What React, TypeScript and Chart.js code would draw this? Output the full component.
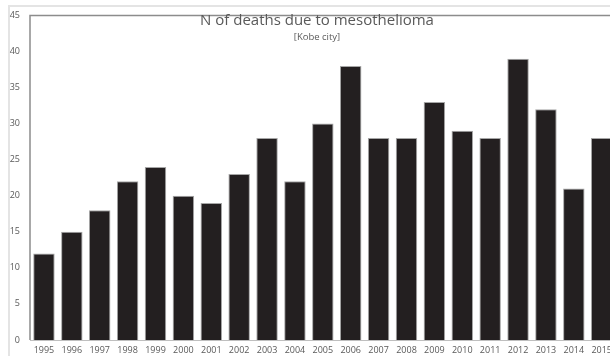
import React, { useEffect, useRef } from "react";
import { Chart, registerables } from "chart.js";

Chart.register(...registerables);

const years = ["1995","1996","1997","1998","1999","2000","2001","2002","2003","2004","2005","2006","2007","2008","2009","2010","2011","2012","2013","2014","2015"];
const deaths = [12, 15, 18, 22, 24, 20, 19, 23, 28, 22, 30, 38, 28, 28, 33, 29, 28, 39, 32, 21, 28];
const titleText = "N of deaths due to mesothelioma";
const subtitleText = "[Kobe city]";

const framePlugin = {
  id: "frameAndTitle",
  beforeDraw(chart: any) {
    const ctx = chart.ctx;
    ctx.save();
    ctx.strokeStyle = "#e4e4e4";
    ctx.lineWidth = 2;
    ctx.strokeRect(9, 6, chart.width + 20, chart.height + 20);
    ctx.restore();
  },
  afterDraw(chart: any) {
    const ctx = chart.ctx;
    const a = chart.chartArea;
    ctx.save();
    ctx.strokeStyle = "#8c8c8c";
    ctx.lineWidth = 1.5;
    ctx.beginPath();
    ctx.moveTo(a.left, a.bottom);
    ctx.lineTo(a.left, a.top);
    ctx.lineTo(a.right, a.top);
    ctx.stroke();
    ctx.strokeStyle = "#bfbfbf";
    ctx.lineWidth = 1;
    ctx.beginPath();
    ctx.moveTo(a.left, a.bottom + 0.5);
    ctx.lineTo(a.right, a.bottom + 0.5);
    ctx.stroke();
    ctx.fillStyle = "#595959";
    ctx.textAlign = "center";
    ctx.textBaseline = "middle";
    ctx.font = "15px 'Open Sans'";
    ctx.fillText(titleText, 317, 21);
    ctx.font = "9.5px 'Open Sans'";
    ctx.fillText(subtitleText, 317, 37);
    ctx.restore();
  },
};

export default function App() {
  const ref = useRef<HTMLCanvasElement | null>(null);
  useEffect(() => {
    if (!ref.current) return;
    const chart = new Chart(ref.current, {
      type: "bar",
      data: {
        labels: years,
        datasets: [
          {
            data: deaths,
            backgroundColor: "#231f20",
            borderColor: "#a6a6a6",
            borderWidth: 1,
            barPercentage: 0.77,
            categoryPercentage: 1,
          },
        ],
      },
      options: {
        responsive: false,
        animation: false,
        layout: { padding: { left: 0, right: 0, top: 12, bottom: 0 } },
        plugins: {
          legend: { display: false },
          title: { display: false },
          tooltip: { enabled: false },
        },
        scales: {
          x: {
            grid: { display: false, drawTicks: false },
            border: { display: false },
            ticks: {
              color: "#595959",
              font: { family: "'Open Sans'", size: 9 },
              padding: 5,
              maxRotation: 0,
              autoSkip: false,
            },
            afterFit(scale: any) {
              scale.height = 16;
            },
          },
          y: {
            min: 0,
            max: 45,
            grid: { display: false, drawTicks: false },
            border: { display: false },
            ticks: {
              stepSize: 5,
              color: "#595959",
              font: { family: "'Open Sans'", size: 9 },
              padding: 10,
            },
            afterFit(scale: any) {
              scale.width = 30;
            },
          },
        },
      },
      plugins: [framePlugin],
    });
    return () => chart.destroy();
  }, []);
  return (
    <div style={{ position: "fixed", left: 0, top: 0, width: 610, height: 356, overflow: "hidden", background: "#fff" }}>
      <canvas ref={ref} width={617} height={356} style={{ display: "block" }} />
    </div>
  );
}
